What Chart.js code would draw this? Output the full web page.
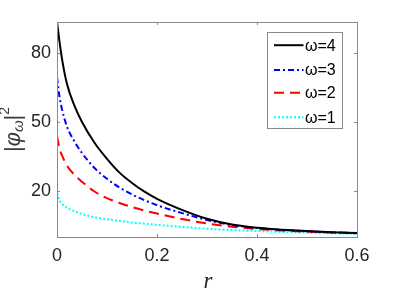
<!DOCTYPE html>
<html>
<head>
<meta charset="utf-8">
<script src="https://cdn.jsdelivr.net/npm/chart.js@4.4.1/dist/chart.umd.min.js"></script>
<style>
html,body{margin:0;padding:0;background:#fff;}
canvas{display:block;}
</style>
</head>
<body>
<canvas id="c" width="395" height="296"></canvas>
<script>
// ---- data ----
const rValues = [0, 0.005, 0.01, 0.02, 0.035, 0.05, 0.075, 0.1, 0.125, 0.15, 0.175, 0.2, 0.25, 0.3, 0.35, 0.4, 0.45, 0.5, 0.55, 0.6];
const phiOmega4 = [93.5, 85, 77.5, 66.5, 57, 50, 41, 34, 28, 23.5, 19.7, 16.6, 11.8, 7.9, 5.4, 4.0, 3.2, 2.6, 2.1, 1.7];
const phiOmega3 = [69.5, 61, 55.5, 48, 41.5, 36.5, 30, 25.3, 21.5, 18.5, 16, 13.8, 10.4, 7.4, 5.2, 3.9, 3.1, 2.5, 2.0, 1.6];
const phiOmega2 = [44, 38.5, 35.5, 31, 27, 24, 19.8, 16.9, 14.8, 13, 11.5, 10.2, 7.8, 5.9, 4.5, 3.5, 2.8, 2.3, 2.0, 1.7];
const phiOmega1 = [19, 15.8, 14.4, 12.7, 11.2, 10, 8.6, 7.7, 7.0, 6.3, 5.8, 5.3, 4.4, 3.6, 3.0, 2.6, 2.2, 1.9, 1.6, 1.4];
const seriesLabels = ['ω=4', 'ω=3', 'ω=2', 'ω=1'];
const xTicks = [0, 0.2, 0.4, 0.6];
const xTickLabels = ['0', '0.2', '0.4', '0.6'];
const yTicks = [20, 50, 80];
const yTickLabels = ['20', '50', '80'];
const xRange = [0, 0.6];
const yRange = [0, 93.5];

// ---- styles ----
const styles = [
  {color: '#000000', dash: []},
  {color: '#0000ff', dash: [6, 3, 2, 3]},
  {color: '#ff0000', dash: [10, 6]},
  {color: '#00ffff', dash: [2, 2]}
];
const seriesValues = [phiOmega4, phiOmega3, phiOmega2, phiOmega1];

const datasets = seriesValues.map((vals, k) => ({
  label: seriesLabels[k],
  data: rValues.map((r, i) => ({x: r, y: vals[i]})),
  borderColor: styles[k].color,
  borderDash: styles[k].dash,
  borderWidth: 2,
  pointRadius: 0,
  fill: false,
  cubicInterpolationMode: 'monotone'
}));

const AXIS_COLOR = '#8a8a8a';
const TEXT_COLOR = '#262626';

const decorPlugin = {
  id: 'decor',
  afterDatasetsDraw(chart) {
    const ctx = chart.ctx;
    const a = chart.chartArea;
    const xs = chart.scales.x, ys = chart.scales.y;
    ctx.save();
    // box
    ctx.strokeStyle = AXIS_COLOR;
    ctx.lineWidth = 1;
    ctx.setLineDash([]);
    ctx.strokeRect(Math.round(a.left) + 0.5, Math.round(a.top) + 0.5, Math.round(a.right - a.left), Math.round(a.bottom - a.top));
    // inside ticks
    const tl = 3;
    ctx.beginPath();
    xTicks.forEach(v => {
      const px = Math.round(xs.getPixelForValue(v)) + 0.5;
      ctx.moveTo(px, a.bottom); ctx.lineTo(px, a.bottom - tl);
      ctx.moveTo(px, a.top); ctx.lineTo(px, a.top + tl);
    });
    yTicks.forEach(v => {
      const py = Math.round(ys.getPixelForValue(v)) + 0.5;
      ctx.moveTo(a.left, py); ctx.lineTo(a.left + tl, py);
      ctx.moveTo(a.right, py); ctx.lineTo(a.right - tl, py);
    });
    ctx.stroke();

    // legend
    const bx = a.right - 89.5, by = a.top + 10.5, bw = 75, bh = 96;
    ctx.fillStyle = '#fff';
    ctx.fillRect(bx, by, bw, bh);
    ctx.strokeStyle = AXIS_COLOR;
    ctx.strokeRect(bx, by, bw, bh);
    const rowY = [12.7, 37.5, 60.2, 84.8];
    ctx.font = '16px "Liberation Sans", Arial, sans-serif';
    ctx.textBaseline = 'middle';
    ctx.textAlign = 'left';
    datasets.forEach((d, k) => {
      const y = by + rowY[k];
      ctx.beginPath();
      ctx.strokeStyle = d.borderColor;
      ctx.lineWidth = 2;
      ctx.setLineDash(d.borderDash);
      ctx.moveTo(bx + 6.5, y); ctx.lineTo(bx + 36, y);
      ctx.stroke();
      ctx.setLineDash([]);
      ctx.fillStyle = '#000';
      ctx.fillText(d.label, bx + 37.5, y + 1);
    });

    // x axis title
    ctx.fillStyle = TEXT_COLOR;
    ctx.font = 'italic 23px "Liberation Serif", "Times New Roman", serif';
    ctx.textAlign = 'center';
    ctx.textBaseline = 'alphabetic';
    ctx.fillText('r', (a.left + a.right) / 2 + 1, 288);

    // y axis title |φ_ω|^2
    ctx.translate(20, (a.top + a.bottom) / 2);
    ctx.rotate(-Math.PI / 2);
    const big = '22px "Liberation Sans", Arial, sans-serif';
    const bigIt = 'italic 22px "Liberation Sans", Arial, sans-serif';
    const small = '14px "Liberation Sans", Arial, sans-serif';
    const smallIt = 'italic 15px "Liberation Sans", Arial, sans-serif';
    const parts = [
      {t: '|', f: big, dy: 0},
      {t: 'φ', f: bigIt, dy: 0},
      {t: 'ω', f: smallIt, dy: 3},
      {t: '|', f: big, dy: 0},
      {t: '2', f: small, dy: -11}
    ];
    let total = 0;
    parts.forEach(p => { ctx.font = p.f; p.w = ctx.measureText(p.t).width; total += p.w; });
    let x = -total / 2;
    ctx.textAlign = 'left';
    ctx.fillStyle = '#3a3a3a';
    parts.forEach(p => { ctx.font = p.f; ctx.fillText(p.t, x, p.dy); x += p.w; });
    ctx.restore();
  }
};

new Chart(document.getElementById('c'), {
  type: 'line',
  data: {datasets},
  options: {
    responsive: false,
    animation: false,
    events: [],
    layout: {padding: {top: 22, right: 38, left: 0, bottom: 0}},
    plugins: {legend: {display: false}, tooltip: {enabled: false}, title: {display: false}},
    scales: {
      x: {
        type: 'linear',
        min: xRange[0], max: xRange[1],
        grid: {display: false, drawTicks: false},
        border: {display: false},
        afterBuildTicks: s => { s.ticks = xTicks.map(v => ({value: v})); },
        afterFit: s => { s.height = 59; },
        ticks: {
          padding: 8,
          maxRotation: 0,
          autoSkip: false,
          color: TEXT_COLOR,
          font: {family: '"Liberation Sans", Arial, sans-serif', size: 18},
          callback: (v) => xTickLabels[xTicks.indexOf(v)]
        }
      },
      y: {
        type: 'linear',
        min: yRange[0], max: yRange[1],
        grid: {display: false, drawTicks: false},
        border: {display: false},
        afterBuildTicks: s => { s.ticks = yTicks.map(v => ({value: v})); },
        afterFit: s => { s.width = 57; },
        ticks: {
          padding: 6,
          autoSkip: false,
          color: TEXT_COLOR,
          font: {family: '"Liberation Sans", Arial, sans-serif', size: 18},
          callback: (v) => yTickLabels[yTicks.indexOf(v)]
        }
      }
    }
  },
  plugins: [decorPlugin]
});
</script>
</body>
</html>
